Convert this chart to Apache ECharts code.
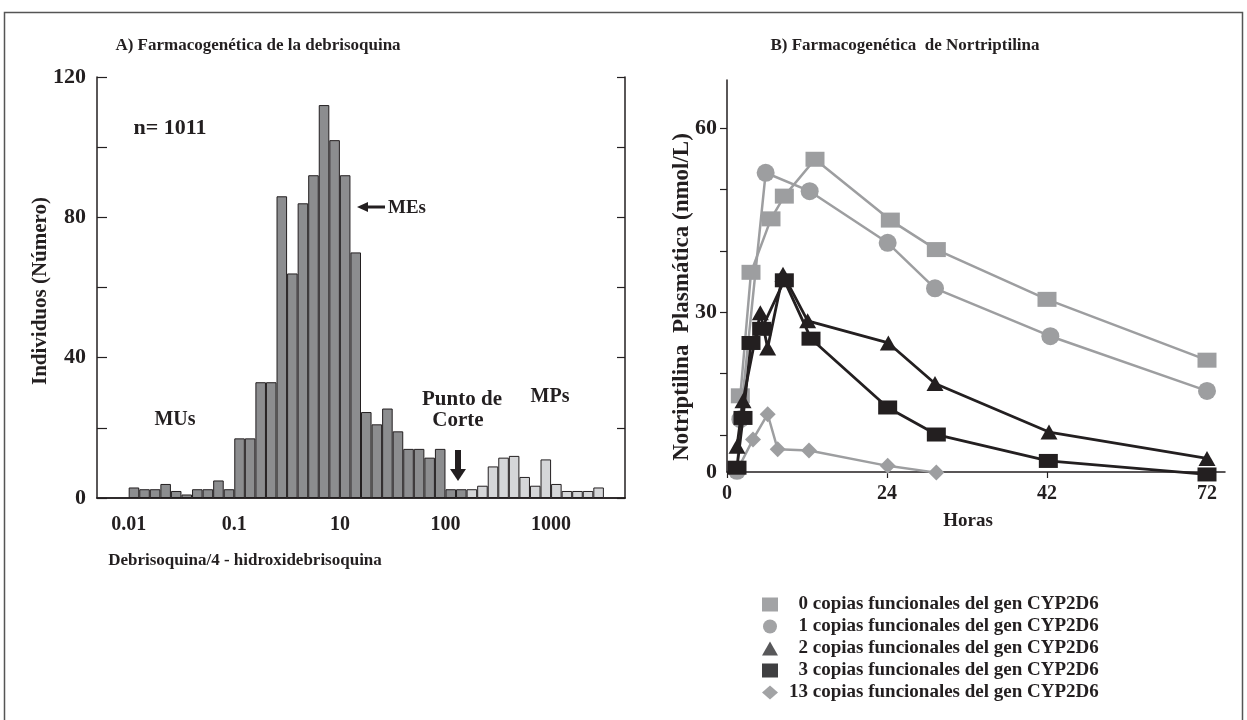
<!DOCTYPE html>
<html>
<head>
<meta charset="utf-8">
<script src="https://cdn.jsdelivr.net/npm/echarts@6/dist/echarts.min.js"></script>
<style>
html, body { margin: 0; padding: 0; background: #fff; }
#chart { width: 1247px; height: 720px; }
</style>
</head>
<body>
<div id="chart"></div>
<script>
// --- A) histograma de la razon metabolica (bins de 0.1 log) ---
var histCounts = [3, 2.5, 2.5, 4, 2, 1, 2.5, 2.5, 5, 2.5,
  17, 17, 33, 33, 86, 64, 84, 92, 112, 102, 92, 70,
  24.5, 21, 25.5, 19, 14, 14, 11.5, 14, 2.5, 2.5,
  2.5, 3.5, 9, 11.5, 12, 6, 3.5, 11, 4, 2, 2, 2, 3];
var histLead = 3;      // bins vacios antes de la primera barra
var histBins = 50;     // bins totales a lo ancho del eje
var histCut = 32;      // primera barra de MPs (gris claro)
var histTickPos = [3, 13, 23, 33, 43];
var histTickLabels = ['0.01', '0.1', '10', '100', '1000'];
var histMinorPos = [3, 8, 13, 18, 23, 28, 33, 38, 43, 48];
var histYLabels = [0, 40, 80, 120];

// --- B) curvas de nortriptilina ---
var horas0 = [2, 3.6, 6.6, 8.6, 13.2, 24.5, 31.4, 48, 72];
var conc0 = [16.4, 36.5, 45.2, 48.9, 54.9, 45, 40.2, 32.1, 22.2];
var horas1 = [1.5, 2, 5.8, 12.4, 24.1, 31.2, 48.5, 72];
var conc1 = [4.2, 12.6, 52.7, 49.7, 41.3, 33.9, 26.1, 17.2];
var horas2 = [1.5, 2.4, 5, 6.1, 8.4, 12.1, 24.2, 31.2, 48.3, 72];
var conc2 = [8.2, 15.6, 29.9, 24.2, 36.2, 28.6, 25.0, 18.4, 10.5, 6.2];
var horas3 = [1.5, 2.4, 3.6, 5.2, 8.6, 12.6, 24.1, 31.4, 48.2, 72];
var conc3 = [4.7, 12.8, 25.0, 27.3, 35.2, 25.7, 14.5, 10.1, 5.8, 3.6];
var horas13 = [1.5, 3.9, 6.1, 7.6, 12.3, 24.1, 31.4];
var conc13 = [4.2, 9.3, 13.4, 7.7, 7.5, 5.0, 3.9];
var horasTickPos = [0, 24, 48, 72];
var horasTickLabels = ['0', '24', '42', '72'];
// en la figura original el eje horizontal cruza algo por encima del cero real
var concAxisMin = 4;
var concTickPos = [10, 20, 30, 40, 50, 60];
var concLabelPos = [4, 30, 60];
var concLabels = ['0', '30', '60'];
var nombres = [
  '\u20070 copias funcionales del gen CYP2D6',
  '\u20071 copias funcionales del gen CYP2D6',
  '\u20072 copias funcionales del gen CYP2D6',
  '\u20073 copias funcionales del gen CYP2D6',
  '13 copias funcionales del gen CYP2D6'
];

var ink = '#231f20';
var grisOsc = '#8c8d8f';
var grisClaro = '#d5d6d8';
var grisLinea = '#9d9ea0';
var serif = '"Liberation Serif", "Times New Roman", serif';

function zip(xs, ys) {
  return xs.map(function (x, i) { return [x, ys[i]]; });
}

var histCats = [];
var histData = [];
for (var i = 0; i < histBins; i++) {
  histCats.push(String(i));
  var k = i - histLead;
  if (k >= 0 && k < histCounts.length) {
    histData.push({
      value: histCounts[k],
      itemStyle: { color: k >= histCut ? grisClaro : grisOsc }
    });
  } else {
    histData.push('-');
  }
}

function boldText(x, y, text, size, extra) {
  var el = {
    type: 'text', x: x, y: y, z: 10,
    style: {
      text: text, fill: ink, align: 'center', verticalAlign: 'middle',
      font: 'bold ' + size + 'px ' + serif
    }
  };
  if (extra) { for (var p in extra) el[p] = extra[p]; }
  return el;
}

function labelStyle(size) {
  return { color: ink, fontFamily: serif, fontWeight: 'bold', fontSize: size };
}

function curva(nombre, xs, ys, symbol, size, color, width, z) {
  return {
    name: nombre, type: 'line', xAxisIndex: 2, yAxisIndex: 2, z: z,
    clip: false,
    data: zip(xs, ys), symbol: symbol, symbolSize: size,
    lineStyle: { color: color, width: width }, itemStyle: { color: color }
  };
}

var chart = echarts.init(document.getElementById('chart'));
var option = {
  animation: false,
  backgroundColor: '#fff',
  grid: [
    { left: 97, top: 77, width: 528, height: 421 },
    { left: 727, top: 80, width: 498, height: 392 }
  ],
  xAxis: [
    {
      type: 'category', gridIndex: 0, position: 'top', data: histCats,
      boundaryGap: true,
      axisLine: { lineStyle: { color: ink, width: 1.5 } },
      axisTick: {
        inside: true, length: 8, lineStyle: { color: ink, width: 1.2 },
        interval: function (idx) { return histMinorPos.indexOf(idx) >= 0; }
      },
      axisLabel: { show: false },
      splitLine: { show: false }
    },
    {
      type: 'value', gridIndex: 0, position: 'bottom', min: 0, max: histBins,
      axisLine: { lineStyle: { color: ink, width: 1.5 } },
      axisTick: { show: false },
      axisLabel: Object.assign({
        margin: 17,
        customValues: histTickPos,
        formatter: function (v) { return histTickLabels[histTickPos.indexOf(v)] || ''; }
      }, labelStyle(20)),
      splitLine: { show: false }
    },
    {
      type: 'value', gridIndex: 1, position: 'bottom', min: 0, max: 74.7,
      axisLine: { onZero: false, lineStyle: { color: ink, width: 1.5 } },
      axisTick: { customValues: horasTickPos, length: 6, lineStyle: { color: ink, width: 1.2 } },
      axisLabel: Object.assign({
        margin: 12,
        customValues: horasTickPos,
        formatter: function (v) { return horasTickLabels[horasTickPos.indexOf(v)] || ''; }
      }, labelStyle(20)),
      splitLine: { show: false }
    }
  ],
  yAxis: [
    {
      type: 'value', gridIndex: 0, position: 'left', min: 0, max: 120, interval: 20,
      axisLine: { show: true, lineStyle: { color: ink, width: 1.5 } },
      axisTick: { inside: true, length: 10, lineStyle: { color: ink, width: 1.2 } },
      axisLabel: Object.assign({ margin: 11, customValues: histYLabels }, labelStyle(22)),
      splitLine: { show: false }
    },
    {
      type: 'value', gridIndex: 0, position: 'right', min: 0, max: 120, interval: 20,
      axisLine: { show: true, lineStyle: { color: ink, width: 1.5 } },
      axisTick: { inside: true, length: 8, lineStyle: { color: ink, width: 1.2 } },
      axisLabel: { show: false },
      splitLine: { show: false }
    },
    {
      type: 'value', gridIndex: 1, position: 'left', min: concAxisMin, max: 67.8,
      axisLine: { show: true, onZero: false, lineStyle: { color: ink, width: 1.5 } },
      axisTick: { customValues: concTickPos, length: 7, lineStyle: { color: ink, width: 1.2 } },
      axisLabel: Object.assign({
        margin: 10,
        customValues: concLabelPos,
        formatter: function (v) { return concLabels[concLabelPos.indexOf(v)] || ''; }
      }, labelStyle(22)),
      splitLine: { show: false }
    }
  ],
  legend: {
    orient: 'vertical', left: 757, top: 590, itemGap: 3,
    itemWidth: 16, itemHeight: 14,
    textStyle: { color: ink, fontFamily: serif, fontWeight: 'bold', fontSize: 19, padding: [0, 0, 0, 6] },
    data: [
      { name: nombres[0], icon: 'rect', itemStyle: { color: '#a2a3a5' } },
      { name: nombres[1], icon: 'circle', itemStyle: { color: '#a2a3a5' } },
      { name: nombres[2], icon: 'triangle', itemStyle: { color: '#58585a' } },
      { name: nombres[3], icon: 'rect', itemStyle: { color: '#3f3f41' } },
      { name: nombres[4], icon: 'diamond', itemStyle: { color: '#a2a3a5' } }
    ]
  },
  series: [
    {
      type: 'bar', xAxisIndex: 0, yAxisIndex: 0, data: histData,
      barCategoryGap: '0%',
      itemStyle: { borderColor: ink, borderWidth: 1 }
    },
    curva(nombres[4], horas13, conc13, 'diamond', [16, 16], grisLinea, 2.5, 2),
    curva(nombres[0], horas0, conc0, 'rect', [19, 15], grisLinea, 2.5, 3),
    curva(nombres[1], horas1, conc1, 'circle', 18, grisLinea, 2.5, 3),
    curva(nombres[2], horas2, conc2, 'triangle', [17, 15], ink, 2.8, 4),
    curva(nombres[3], horas3, conc3, 'rect', [19, 14], ink, 2.8, 4)
  ],
  graphic: [
    {
      type: 'rect', z: 0, silent: true,
      shape: { x: 4.5, y: 12.5, width: 1238, height: 720 },
      style: { fill: 'none', stroke: '#555', lineWidth: 1.5 }
    },
    boldText(258, 46, 'A) Farmacogenética de la debrisoquina', 17),
    boldText(905, 46, 'B) Farmacogenética  de Nortriptilina', 17),
    boldText(41, 291, 'Individuos (Número)', 21, { rotation: Math.PI / 2 }),
    boldText(245, 561, 'Debrisoquina/4 - hidroxidebrisoquina', 17),
    boldText(682, 297, 'Notriptilina  Plasmática (nmol/L)', 23, { rotation: Math.PI / 2 }),
    boldText(968, 521, 'Horas', 19),
    boldText(170, 128, 'n= 1011', 22),
    boldText(407, 208, 'MEs', 19),
    boldText(175, 420, 'MUs', 20),
    boldText(462, 400, 'Punto de', 21),
    boldText(458, 421, 'Corte', 21),
    boldText(550, 397, 'MPs', 20),
    {
      type: 'line', z: 10, shape: { x1: 385, y1: 207, x2: 366, y2: 207 },
      style: { stroke: ink, lineWidth: 3 }
    },
    {
      type: 'polygon', z: 10, shape: { points: [[357, 207], [368, 202], [368, 212]] },
      style: { fill: ink }
    },
    {
      type: 'line', z: 10, shape: { x1: 458, y1: 450, x2: 458, y2: 470 },
      style: { stroke: ink, lineWidth: 6 }
    },
    {
      type: 'polygon', z: 10, shape: { points: [[450, 469], [466, 469], [458, 481]] },
      style: { fill: ink }
    }
  ]
};
chart.setOption(option);
</script>
</body>
</html>
